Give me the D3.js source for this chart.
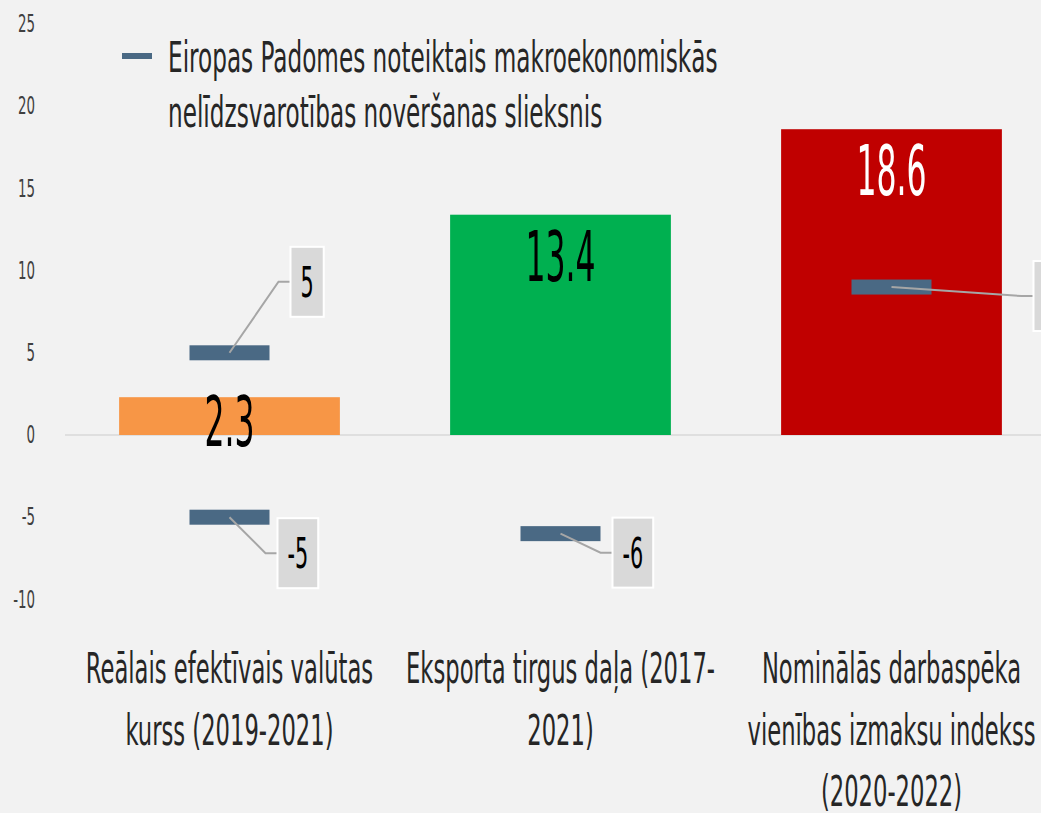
<!DOCTYPE html>
<html>
<head>
<meta charset="utf-8">
<script src="https://cdn.jsdelivr.net/npm/d3@7/dist/d3.min.js"></script>
<style>
  body { margin: 0; background: #f2f2f2; }
  svg { display: block; }
  text { font-family: "DejaVu Sans Condensed", "Liberation Sans Narrow", sans-serif; }
</style>
</head>
<body>
<script>
//data
var categories = [
    ["Reālais efektīvais valūtas", "kurss (2019-2021)"],
    ["Eksporta tirgus daļa (2017-", "2021)"],
    ["Nominālās darbaspēka", "vienības izmaksu indekss", "(2020-2022)"]
];
var values = [2.3, 13.4, 18.6];
var barColours = ["#f79646", "#00b050", "#c00000"];
var valueLabelColours = ["#000000", "#000000", "#ffffff"];

//threshold markers: which category, which value
var thresholdCat = [0, 0, 1, 2];
var thresholdVal = [5, -5, -6, 9];

var yTicks = [-10, -5, 0, 5, 10, 15, 20, 25];
var legendLines = ["Eiropas Padomes noteiktais makroekonomiskās", "nelīdzsvarotības novēršanas slieksnis"];

//layout / style
var width = 1041;
var height = 813;
var markerColour = "#4a6984";
var leaderColour = "#a6a6a6";
var labelBoxFill = "#d9d9d9";
//manual label offsets from the marker centre (box left, box middle), like dragged labels in the original
var labelOffsets = [[61, -71], [48, 36], [52, 19], [142, 9]];

var svg = d3.select("body").append("svg")
    .attr("width", width)
    .attr("height", height);

svg.append("rect")
    .attr("width", width)
    .attr("height", height)
    .attr("fill", "#f2f2f2");

//scales
var y = d3.scaleLinear().domain([-10, 25]).range([599.4, 24]);
var x = d3.scaleBand().domain(d3.range(values.length)).range([64, 1057])
    .paddingInner(0.333).paddingOuter(0.1665);

//y axis labels
var yAxis = svg.append("g")
    .attr("transform", "translate(35,0)")
    .call(d3.axisLeft(y).tickValues(yTicks).tickSize(0).tickPadding(0)
        .tickFormat(function (d) { return String(d) }));
yAxis.select(".domain").remove();
yAxis.selectAll("text")
    .attr("font-family", null)
    .attr("font-size", 24)
    .attr("fill", "#404040")
    .attr("transform", "scale(0.62,1)");

//zero line
svg.append("line")
    .attr("x1", 65).attr("x2", width)
    .attr("y1", y(0)).attr("y2", y(0))
    .attr("stroke", "#d9d9d9")
    .attr("stroke-width", 1.5);

//bars
svg.selectAll("rect.bar")
    .data(values)
    .enter()
    .append("rect")
    .attr("class", "bar")
    .attr("x", function (d, i) { return x(i) })
    .attr("width", x.bandwidth())
    .attr("y", function (d) { return y(Math.max(d, 0)) })
    .attr("height", function (d) { return Math.abs(y(d) - y(0)) })
    .attr("fill", function (d, i) { return barColours[i] });

//bar value labels, inside end (top of bar if the bar is too short)
svg.selectAll("text.value")
    .data(values)
    .enter()
    .append("text")
    .attr("class", "value")
    .attr("text-anchor", "middle")
    .attr("font-size", 70)
    .attr("fill", function (d, i) { return valueLabelColours[i] })
    .attr("transform", function (d, i) {
        var top = y(d);
        var room = y(0) - top;
        var base = room > 70 ? top + 66 : top + 49;
        return "translate(" + (x(i) + x.bandwidth() / 2) + "," + base + ") scale(0.5,1)";
    })
    .text(function (d) { return d.toFixed(1) });

//threshold markers
var markers = thresholdVal.map(function (v, i) {
    return { cx: x(thresholdCat[i]) + x.bandwidth() / 2, cy: y(v), v: v, off: labelOffsets[i] };
});

svg.selectAll("rect.marker")
    .data(markers)
    .enter()
    .append("rect")
    .attr("class", "marker")
    .attr("x", function (d) { return d.cx - 40 })
    .attr("y", function (d) { return d.cy - 7.5 })
    .attr("width", 80)
    .attr("height", 15)
    .attr("fill", markerColour);

//leader lines + label boxes
var labelGroups = svg.selectAll("g.tlabel")
    .data(markers)
    .enter()
    .append("g")
    .attr("class", "tlabel");

labelGroups.append("polyline")
    .attr("points", function (d) {
        var bx = d.cx + d.off[0], by = d.cy + d.off[1];
        return [[d.cx, d.cy], [bx - 12, by], [bx, by]].join(" ");
    })
    .attr("fill", "none")
    .attr("stroke", leaderColour)
    .attr("stroke-width", 2);

var boxK = 0.55;
labelGroups.each(function (d) {
    var g = d3.select(this);
    var bx = d.cx + d.off[0], by = d.cy + d.off[1];
    var box = g.append("rect")
        .attr("y", by - 35)
        .attr("height", 70)
        .attr("x", bx)
        .attr("fill", labelBoxFill)
        .attr("stroke", "#ffffff")
        .attr("stroke-width", 2);
    var t = g.append("text")
        .attr("font-size", 42)
        .attr("text-anchor", "middle")
        .attr("dy", "0.36em")
        .attr("fill", "#000000")
        .text(d.v);
    var w = t.node().getComputedTextLength() * boxK + 20;
    box.attr("width", w);
    t.attr("transform", "translate(" + (bx + w / 2) + "," + by + ") scale(" + boxK + ",1)");
});

//category labels
var catK = 0.6;
categories.forEach(function (lines, i) {
    lines.forEach(function (line, j) {
        svg.append("text")
            .attr("text-anchor", "middle")
            .attr("font-size", 42)
            .attr("fill", "#262626")
            .attr("transform", "translate(" + (x(i) + x.bandwidth() / 2) + "," + (683 + j * 61.5) + ") scale(" + catK + ",1)")
            .text(line);
    });
});

//legend
svg.append("line")
    .attr("x1", 122).attr("x2", 152)
    .attr("y1", 56).attr("y2", 56)
    .attr("stroke", markerColour)
    .attr("stroke-width", 6);

legendLines.forEach(function (line, j) {
    svg.append("text")
        .attr("font-size", 42)
        .attr("fill", "#262626")
        .attr("transform", "translate(168," + (72 + j * 55) + ") scale(0.613,1)")
        .text(line);
});
</script>
</body>
</html>
